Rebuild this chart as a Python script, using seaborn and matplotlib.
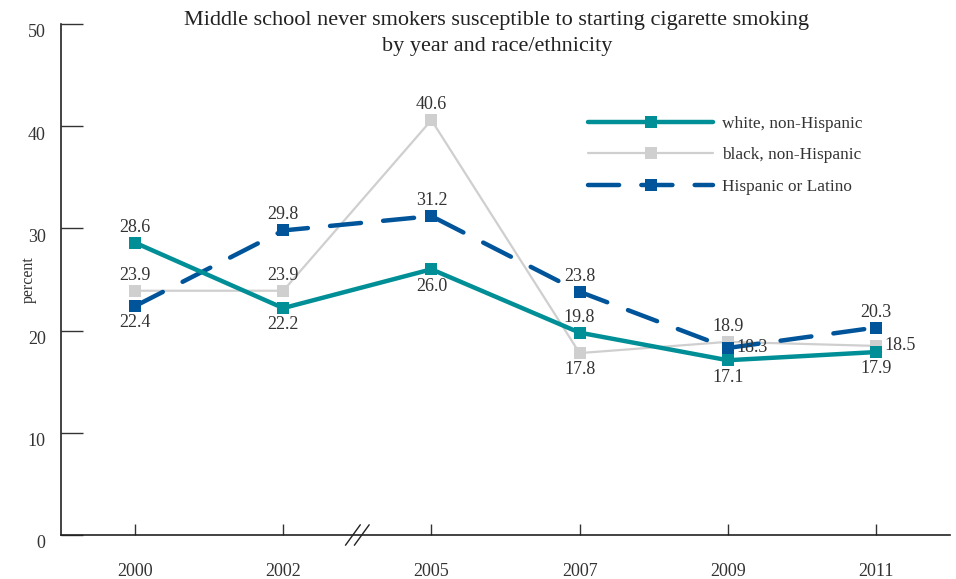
import matplotlib
matplotlib.use("Agg")
import matplotlib.pyplot as plt
import matplotlib.transforms as mtransforms
from matplotlib.lines import Line2D
import pandas as pd
import seaborn as sns

# Data
years = ["2000", "2002", "2005", "2007", "2009", "2011"]
white = [28.6, 22.2, 26.0, 19.8, 17.1, 17.9]
black = [23.9, 23.9, 40.6, 17.8, 18.9, 18.5]
hispanic = [22.4, 29.8, 31.2, 23.8, 18.3, 20.3]
series_names = ["white, non-Hispanic", "black, non-Hispanic", "Hispanic or Latino"]

# label placement for each point: 'a' above, 'b' below, 'r' right
white_pos = ["a", "b", "b", "a", "b", "b"]
black_pos = ["a", "a", "a", "b", "a", "r"]
hisp_pos = ["b", "a", "a", "a", "r", "a"]

sns.set_style("ticks")
plt.rcParams["font.family"] = ["Liberation Serif", "DejaVu Serif"]

colors = ["#008f96", "#cfcfcf", "#00549a"]
widths = [3.2, 1.6, 3.2]
txt_color = "#333333"

df = pd.DataFrame({
    "pos": list(range(len(years))) * 3,
    "value": white + black + hispanic,
    "group": [series_names[0]] * 6 + [series_names[1]] * 6 + [series_names[2]] * 6,
})

fig = plt.figure(figsize=(9.56, 5.79), dpi=100)
ax = fig.add_axes([61 / 956, 44 / 579, 889 / 956, 511 / 579])

# draw the gray line first, then hispanic, white on top
for i in [1, 2, 0]:
    sub = df[df["group"] == series_names[i]]
    sns.lineplot(data=sub, x="pos", y="value", ax=ax, color=colors[i],
                 linewidth=widths[i], marker="s", markersize=9,
                 markeredgewidth=0, legend=False, zorder=3 + (i == 0))
hl = ax.get_lines()[1]
hl.set_dashes((7, 5))
hl.set_dash_capstyle("round")
ax.get_lines()[2].set_solid_capstyle("round")

# value labels
def add_labels(vals, poss):
    for x, (v, p) in enumerate(zip(vals, poss)):
        if p == "a":
            ax.annotate(f"{v:.1f}", (x, v), xytext=(0, 5), textcoords="offset points",
                        ha="center", va="bottom", fontsize=13, color=txt_color)
        elif p == "b":
            ax.annotate(f"{v:.1f}", (x, v), xytext=(0, -6), textcoords="offset points",
                        ha="center", va="top", fontsize=13, color=txt_color)
        else:
            ax.annotate(f"{v:.1f}", (x, v), xytext=(6, 0), textcoords="offset points",
                        ha="left", va="center", fontsize=13, color=txt_color)

add_labels(white, white_pos)
add_labels(black, black_pos)
add_labels(hispanic, hisp_pos)

ax.set_xlim(-0.5, 5.5)
ax.set_ylim(0, 50)
ax.set_xticks(range(len(years)))
ax.set_xticklabels(years)
ax.set_yticks([0, 10, 20, 30, 40, 50])
ax.set_xlabel("")
ax.set_ylabel("percent", fontsize=11.5, color=txt_color)
ax.yaxis.set_label_coords(-0.027, 0.5)
sns.despine(ax=ax)
for s in ["left", "bottom"]:
    ax.spines[s].set_linewidth(1.2)
    ax.spines[s].set_color("#222222")
ax.tick_params(axis="y", direction="in", length=16, width=1.0, pad=11,
               labelsize=13, labelcolor=txt_color, color="#333333")
ax.tick_params(axis="x", direction="in", length=8, width=1.0, pad=20,
               labelsize=13, labelcolor=txt_color, color="#333333")
offset = mtransforms.ScaledTranslation(0, -5 / 72, fig.dpi_scale_trans)
for lab in ax.get_yticklabels():
    lab.set_transform(lab.get_transform() + offset)

# axis break marks between 2002 and 2005
for dx in [-0.03, 0.03]:
    ax.plot([1.5 + dx - 0.05, 1.5 + dx + 0.05], [-1.0, 1.0], color="#222222",
            lw=1.0, clip_on=False, zorder=5)

fig.text(497 / 956, 1 - 33.5 / 579,
         "Middle school never smokers susceptible to starting cigarette smoking\nby year and race/ethnicity",
         ha="center", va="center", fontsize=16, color="#222222", linespacing=1.45)

handles = [Line2D([], [], color=colors[i], lw=widths[i], marker="s", markersize=9,
                  markeredgewidth=0, solid_capstyle="round") for i in range(3)]
handles[2].set_dashes((7, 5))
handles[2].set_dash_capstyle("round")
ax.legend(handles, series_names, loc="upper left", bbox_to_anchor=(0.575, 0.85),
          frameon=False, numpoints=1, handlelength=7.3, fontsize=12.4,
          labelspacing=0.88, handletextpad=0.5, labelcolor=txt_color)

fig.savefig("out.png", dpi=100)
